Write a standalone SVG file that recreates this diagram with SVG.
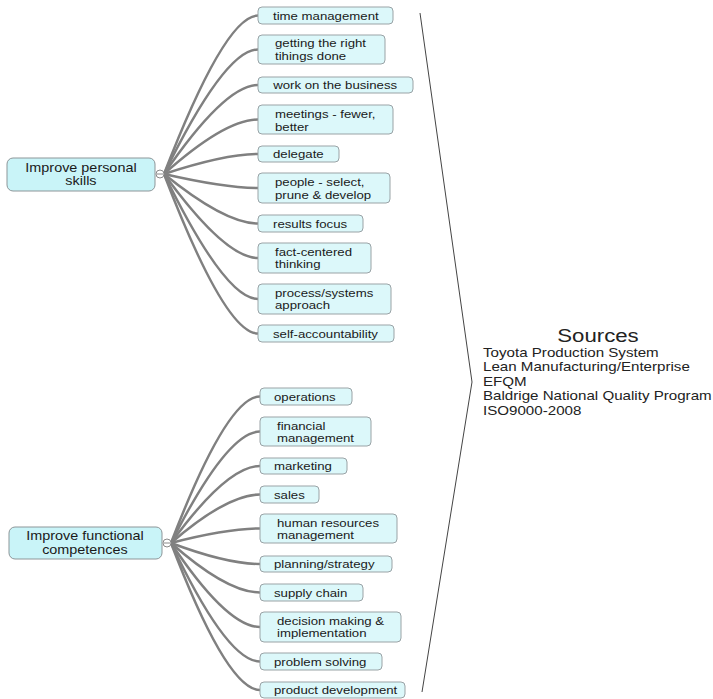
<svg xmlns="http://www.w3.org/2000/svg" width="713" height="699" viewBox="0 0 713 699">
<style>
.leaf rect{fill:#dcf8fa;stroke:#9aa3a6;stroke-width:1}
.leaf text{font-family:"Liberation Sans",Arial,sans-serif;font-size:11.2px;fill:#1a1a1a;transform-box:fill-box;transform-origin:0 0;transform:scaleX(1.18)}
.root rect{fill:#c9f4f8;stroke:#8d9699;stroke-width:1}
.root text{font-family:"Liberation Sans",Arial,sans-serif;font-size:12px;fill:#1a1a1a;text-anchor:middle;transform-box:fill-box;transform-origin:50% 0;transform:scaleX(1.2)}
.conn path{fill:none;stroke:#808080;stroke-width:2.5;stroke-linecap:round}
.hub circle{fill:#ffffff;stroke:#8a8a8a;stroke-width:1}
.hub line{stroke:#8a8a8a;stroke-width:1}
.src{font-family:"Liberation Sans",Arial,sans-serif;font-size:12.4px;fill:#222;transform-box:fill-box;transform-origin:0 0;transform:scaleX(1.22)}
.srctitle{font-family:"Liberation Sans",Arial,sans-serif;font-size:18.5px;fill:#222;text-anchor:middle;transform-box:fill-box;transform-origin:50% 0;transform:scaleX(1.2)}
</style>
<rect width="713" height="699" fill="#ffffff"/>
<g id="connectors" class="conn">
<path d="M164,174 Q225,15.5 258,15.5"/>
<path d="M164,174 Q225,49.5 258,49.5"/>
<path d="M164,174 Q225,85 258,85"/>
<path d="M164,174 Q225,119.5 258,119.5"/>
<path d="M164,174 Q225,154 258,154"/>
<path d="M164,174 Q225,188 258,188"/>
<path d="M164,174 Q225,223.5 258,223.5"/>
<path d="M164,174 Q225,258 258,258"/>
<path d="M164,174 Q225,299 258,299"/>
<path d="M164,174 Q225,333.5 258,333.5"/>
<path d="M171,543 Q227,396.5 260,396.5"/>
<path d="M171,543 Q227,431.5 260,431.5"/>
<path d="M171,543 Q227,466 260,466"/>
<path d="M171,543 Q227,494.5 260,494.5"/>
<path d="M171,543 Q227,528.5 260,528.5"/>
<path d="M171,543 Q227,564 260,564"/>
<path d="M171,543 Q227,592.5 260,592.5"/>
<path d="M171,543 Q227,627 260,627"/>
<path d="M171,543 Q227,661.5 260,661.5"/>
<path d="M171,543 Q227,690 260,690"/>
</g>
<g id="personal-skills" class="root">
<rect x="7" y="158" width="148" height="33" rx="6"/>
<text x="81" y="172">Improve personal</text>
<text x="81" y="185.5">skills</text>
</g>
<g id="personal-hub" class="hub"><circle cx="160" cy="174" r="4"/><line x1="157" y1="174" x2="163" y2="174"/></g>
<g id="functional" class="root">
<rect x="9" y="527" width="153" height="32" rx="6"/>
<text x="85" y="540">Improve functional</text>
<text x="85" y="554">competences</text>
</g>
<g id="functional-hub" class="hub"><circle cx="167" cy="543" r="4"/><line x1="164" y1="543" x2="170" y2="543"/></g>
<g id="n-time" class="leaf"><rect x="258" y="7" width="135" height="17" rx="4"/><text x="273" y="20">time management</text></g>
<g id="n-getting" class="leaf"><rect x="258" y="35" width="127" height="29" rx="4"/><text x="275" y="47">getting the right</text><text x="275" y="60">tihings done</text></g>
<g id="n-work" class="leaf"><rect x="258" y="77" width="155" height="16" rx="4"/><text x="273" y="89.5">work on the business</text></g>
<g id="n-meetings" class="leaf"><rect x="258" y="105" width="135" height="29" rx="4"/><text x="275" y="118">meetings - fewer,</text><text x="275" y="131">better</text></g>
<g id="n-delegate" class="leaf"><rect x="258" y="146" width="81" height="16" rx="4"/><text x="273" y="158.5">delegate</text></g>
<g id="n-people" class="leaf"><rect x="258" y="173" width="132" height="30" rx="4"/><text x="275" y="186.5">people - select,</text><text x="275" y="199">prune &amp; develop</text></g>
<g id="n-results" class="leaf"><rect x="258" y="215" width="105" height="17" rx="4"/><text x="273" y="228">results focus</text></g>
<g id="n-fact" class="leaf"><rect x="258" y="243" width="113" height="30" rx="4"/><text x="275" y="256">fact-centered</text><text x="275" y="268.5">thinking</text></g>
<g id="n-process" class="leaf"><rect x="258" y="284" width="133" height="30" rx="4"/><text x="275" y="297">process/systems</text><text x="275" y="309.5">approach</text></g>
<g id="n-self" class="leaf"><rect x="258" y="325" width="136" height="17" rx="4"/><text x="273" y="338">self-accountability</text></g>
<g id="n-operations" class="leaf"><rect x="260" y="388" width="92" height="17" rx="4"/><text x="274" y="401.5">operations</text></g>
<g id="n-financial" class="leaf"><rect x="260" y="417" width="111" height="29" rx="4"/><text x="277" y="430">financial</text><text x="277" y="442.5">management</text></g>
<g id="n-marketing" class="leaf"><rect x="260" y="458" width="87" height="16" rx="4"/><text x="274" y="470.5">marketing</text></g>
<g id="n-sales" class="leaf"><rect x="260" y="486" width="59" height="17" rx="4"/><text x="274" y="499">sales</text></g>
<g id="n-hr" class="leaf"><rect x="260" y="514" width="137" height="29" rx="4"/><text x="277" y="527">human resources</text><text x="277" y="539.5">management</text></g>
<g id="n-planning" class="leaf"><rect x="260" y="556" width="132" height="16" rx="4"/><text x="274" y="568.5">planning/strategy</text></g>
<g id="n-supply" class="leaf"><rect x="260" y="584" width="103" height="17" rx="4"/><text x="274" y="597">supply chain</text></g>
<g id="n-decision" class="leaf"><rect x="260" y="612" width="141" height="30" rx="4"/><text x="277" y="625">decision making &amp;</text><text x="277" y="637.5">implementation</text></g>
<g id="n-problem" class="leaf"><rect x="260" y="653" width="122" height="17" rx="4"/><text x="274" y="666">problem solving</text></g>
<g id="n-product" class="leaf"><rect x="260" y="682" width="145" height="16" rx="4"/><text x="274" y="694.5">product development</text></g>
<g id="bracket"><path d="M420,13 L472,382 L422,692" fill="none" stroke="#444" stroke-width="1"/></g>
<g id="sources">
<text class="srctitle" x="598" y="342">Sources</text>
<text class="src" x="483" y="357">Toyota Production System</text>
<text class="src" x="483" y="371.5">Lean Manufacturing/Enterprise</text>
<text class="src" x="483" y="386">EFQM</text>
<text class="src" x="483" y="400.5">Baldrige National Quality Program</text>
<text class="src" x="483" y="415">ISO9000-2008</text>
</g>
</svg>
